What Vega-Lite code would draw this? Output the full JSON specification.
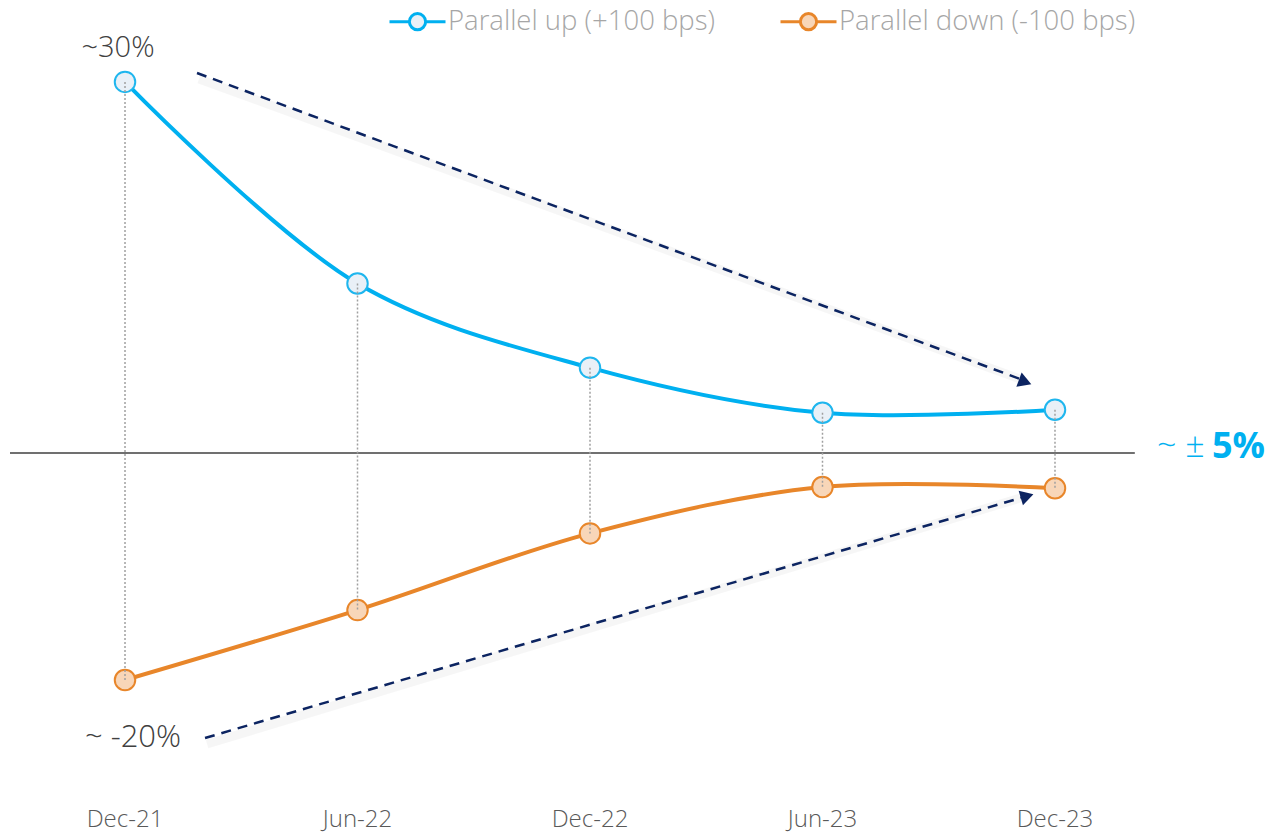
{
  "$schema": "https://vega.github.io/schema/vega-lite/v6.json",
  "width": 1273,
  "height": 834,
  "autosize": {"type": "none"},
  "padding": 0,
  "background": "white",
  "config": {"view": {"stroke": null}, "font": "Open Sans"},
  "data": {"values": [
    {"date": "Dec-21", "month": 0, "up": 30, "down": -18.35},
    {"date": "Jun-22", "month": 6, "up": 13.7, "down": -12.7},
    {"date": "Dec-22", "month": 12, "up": 6.9, "down": -6.5},
    {"date": "Jun-23", "month": 18, "up": 3.25, "down": -2.75},
    {"date": "Dec-23", "month": 24, "up": 3.5, "down": -2.85}
  ]},
  "layer": [
    {
      "data": {"values": [{}]},
      "mark": {"type": "rule", "stroke": "#404040", "strokeWidth": 1.5},
      "encoding": {
        "x": {"datum": -2.968, "type": "quantitative", "scale": {"domain": [-3.226, 29.626], "nice": false, "zero": false}, "axis": null},
        "x2": {"datum": 26.06},
        "y": {"datum": 0, "type": "quantitative", "scale": {"domain": [-30.8, 36.62], "nice": false, "zero": false}, "axis": null}
      }
    },
    {
      "data": {"values": [{}]},
      "mark": {"type": "rule", "stroke": "#000000", "strokeOpacity": 0.035, "strokeWidth": 9, "yOffset": 6, "xOffset": 2},
      "encoding": {
        "x": {"datum": 1.858, "type": "quantitative"}, "x2": {"datum": 23.10},
        "y": {"datum": 30.72, "type": "quantitative"}, "y2": {"datum": 5.98}
      }
    },
    {
      "data": {"values": [{}]},
      "mark": {"type": "rule", "stroke": "#000000", "strokeOpacity": 0.035, "strokeWidth": 9, "yOffset": 6, "xOffset": 2},
      "encoding": {
        "x": {"datum": 2.065, "type": "quantitative"}, "x2": {"datum": 23.15},
        "y": {"datum": -23.04, "type": "quantitative"}, "y2": {"datum": -3.60}
      }
    },
    {
      "data": {"values": [{}]},
      "mark": {"type": "rule", "stroke": "#0c2461", "strokeWidth": 2.5, "strokeDash": [10, 7]},
      "encoding": {
        "x": {"datum": 1.858, "type": "quantitative"}, "x2": {"datum": 23.10},
        "y": {"datum": 30.72, "type": "quantitative"}, "y2": {"datum": 5.98}
      }
    },
    {
      "data": {"values": [{}]},
      "mark": {"type": "rule", "stroke": "#0c2461", "strokeWidth": 2.5, "strokeDash": [10, 7]},
      "encoding": {
        "x": {"datum": 2.065, "type": "quantitative"}, "x2": {"datum": 23.15},
        "y": {"datum": -23.04, "type": "quantitative"}, "y2": {"datum": -3.60}
      }
    },
    {
      "data": {"values": [{}]},
      "mark": {"type": "point", "shape": "triangle-right", "filled": true, "color": "#0c2461", "opacity": 1, "size": 230, "angle": 20.4},
      "encoding": {
        "x": {"datum": 23.23, "type": "quantitative"},
        "y": {"datum": 5.74, "type": "quantitative"}
      }
    },
    {
      "data": {"values": [{}]},
      "mark": {"type": "point", "shape": "triangle-right", "filled": true, "color": "#0c2461", "opacity": 1, "size": 230, "angle": 343.6},
      "encoding": {
        "x": {"datum": 23.28, "type": "quantitative"},
        "y": {"datum": -3.48, "type": "quantitative"}
      }
    },
    {
      "transform": [{"fold": ["up", "down"], "as": ["key", "value"]}],
      "mark": {"type": "line", "interpolate": "catmull-rom", "strokeWidth": 4},
      "encoding": {
        "x": {"field": "month", "type": "quantitative"},
        "y": {"field": "value", "type": "quantitative"},
        "color": {
          "field": "key", "type": "nominal",
          "scale": {"domain": ["up", "down"], "range": ["#00b0f0", "#e8862a"]},
          "legend": {
            "title": null,
            "orient": "none",
            "legendX": 388,
            "legendY": -8,
            "direction": "horizontal",
            "symbolType": "M-1,0L-0.29,0M0.29,0L1,0M-0.29,0A0.29,0.29,0,1,1,0.29,0A0.29,0.29,0,1,1,-0.29,0Z",
            "symbolSize": 3136,
            "symbolStrokeWidth": 3,
            "labelFont": "Open Sans",
            "labelFontSize": 27.5,
            "labelFontWeight": 300,
            "labelLimit": 500,
            "labelColor": "#a6a6a6",
            "labelOffset": 1,
            "columnPadding": 58,
            "labelExpr": "datum.value === 'up' ? 'Parallel up (+100 bps)' : 'Parallel down (-100 bps)'",
            "encode": {"symbols": {"update": {
              "fill": {"signal": "datum.value === 'up' ? '#e9f0f7' : '#f8d6b8'"},
              "fillOpacity": {"value": 1},
              "opacity": {"value": 1}
            }}}
          }
        }
      }
    },
    {
      "transform": [{"fold": ["up", "down"], "as": ["key", "value"]}],
      "mark": {"type": "point", "shape": "circle", "size": 420, "strokeWidth": 2, "opacity": 1, "fillOpacity": 1},
      "encoding": {
        "x": {"field": "month", "type": "quantitative"},
        "y": {"field": "value", "type": "quantitative"},
        "stroke": {"field": "key", "type": "nominal", "scale": {"domain": ["up", "down"], "range": ["#1fb6ee", "#e8862a"]}, "legend": null},
        "fill": {"field": "key", "type": "nominal", "scale": {"domain": ["up", "down"], "range": ["#e9f0f7", "#f8d6b8"]}, "legend": null}
      }
    },
    {
      "mark": {"type": "rule", "stroke": "#a0a0a0", "strokeWidth": 1.5, "strokeDash": [2, 2]},
      "encoding": {
        "x": {"field": "month", "type": "quantitative"},
        "y": {"field": "up", "type": "quantitative"},
        "y2": {"field": "down"}
      }
    },
    {
      "mark": {"type": "text", "fontSize": 24, "fontWeight": 300, "color": "#595959", "align": "center", "baseline": "middle"},
      "encoding": {
        "x": {"field": "month", "type": "quantitative"},
        "y": {"datum": -29.67, "type": "quantitative"},
        "text": {"field": "date"}
      }
    },
    {
      "data": {"values": [{}]},
      "mark": {"type": "text", "fontSize": 29, "fontWeight": 300, "color": "#404040", "align": "center", "baseline": "middle", "text": "~30%"},
      "encoding": {
        "x": {"datum": -0.18, "type": "quantitative"},
        "y": {"datum": 32.74, "type": "quantitative"}
      }
    },
    {
      "data": {"values": [{}]},
      "mark": {"type": "text", "fontSize": 31, "fontWeight": 300, "color": "#404040", "align": "center", "baseline": "middle", "text": "~ -20%"},
      "encoding": {
        "x": {"datum": 0.206, "type": "quantitative"},
        "y": {"datum": -23.04, "type": "quantitative"}
      }
    },
    {
      "data": {"values": [{}]},
      "mark": {"type": "text", "fontSize": 34, "fontWeight": 300, "color": "#00b0f0", "align": "left", "baseline": "middle", "text": "~ ±"},
      "encoding": {
        "x": {"datum": 26.63, "type": "quantitative"},
        "y": {"datum": 0.49, "type": "quantitative"}
      }
    },
    {
      "data": {"values": [{}]},
      "mark": {"type": "text", "fontSize": 36, "fontWeight": "bold", "color": "#00b0f0", "align": "left", "baseline": "middle", "text": "5%"},
      "encoding": {
        "x": {"datum": 28.05, "type": "quantitative"},
        "y": {"datum": 0.49, "type": "quantitative"}
      }
    }
  ]
}
